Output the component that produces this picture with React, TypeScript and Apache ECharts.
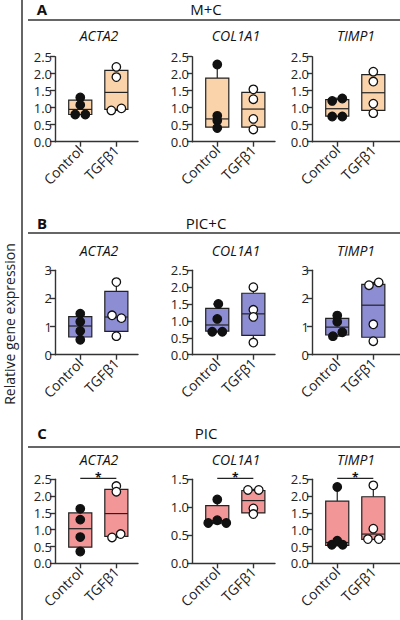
import React, { useEffect, useRef } from 'react';
import * as echarts from 'echarts';

// ---------------- data ----------------
const groups = ['Control', 'TGFβ1'];
const genes = ['ACTA2', 'COL1A1', 'TIMP1'];
const conditions = ['M+C', 'PIC+C', 'PIC'];
const panelLetters = ['A', 'B', 'C'];

// y-axis maxima and steps per row / gene
const yMaxByRow = [
  [2.5, 2.5, 2.5],
  [3, 2.5, 3],
  [2.5, 1.5, 2.5],
];
const yStepByRow = [
  [0.5, 0.5, 0.5],
  [1, 0.5, 1],
  [0.5, 0.5, 0.5],
];

// box statistics [min, q1, median, q3, max] : [row][gene][group]
const boxMC = [
  [[0.8, 0.8, 0.95, 1.22, 1.3], [0.92, 0.95, 1.45, 2.1, 2.2]],
  [[0.4, 0.43, 0.67, 1.87, 2.27], [0.36, 0.43, 0.96, 1.45, 1.54]],
  [[0.74, 0.75, 0.97, 1.24, 1.28], [0.84, 0.92, 1.44, 1.97, 2.06]],
];
const boxPICC = [
  [[0.53, 0.63, 1.02, 1.35, 1.46], [0.66, 0.83, 1.34, 2.25, 2.58]],
  [[0.67, 0.7, 0.88, 1.37, 1.5], [0.36, 0.57, 1.21, 1.82, 2.0]],
  [[0.66, 0.7, 0.98, 1.29, 1.38], [0.48, 0.62, 1.76, 2.5, 2.57]],
];
const boxPIC = [
  [[0.35, 0.48, 1.03, 1.5, 1.62], [0.77, 0.8, 1.48, 2.2, 2.28]],
  [[0.71, 0.72, 0.76, 1.03, 1.14], [0.88, 0.9, 1.12, 1.3, 1.32]],
  [[0.52, 0.53, 0.62, 1.85, 2.27], [0.71, 0.71, 0.87, 1.98, 2.32]],
];
const boxStats = [boxMC, boxPICC, boxPIC];

// individual points : [row][gene][group]
const ptsMC = [
  [[1.3, 1.08, 0.8, 0.8], [2.2, 1.9, 0.92, 0.98]],
  [[2.27, 0.76, 0.62, 0.4], [1.54, 1.25, 0.67, 0.36]],
  [[1.2, 1.27, 0.74, 0.74], [2.06, 1.77, 1.12, 0.84]],
];
const ptsPICC = [
  [[1.46, 1.17, 0.84, 0.53], [2.58, 1.4, 1.3, 0.66]],
  [[1.5, 1.06, 0.68, 0.68], [2.0, 1.33, 1.12, 0.36]],
  [[1.39, 1.17, 0.8, 0.66], [2.57, 2.47, 1.08, 0.48]],
];
const ptsPIC = [
  [[1.62, 1.3, 0.78, 0.35], [2.3, 2.13, 0.87, 0.77]],
  [[1.14, 0.77, 0.72, 0.72], [1.31, 1.31, 0.98, 0.88]],
  [[2.27, 0.67, 0.55, 0.55], [2.32, 1.03, 0.72, 0.72]],
];
const points = [ptsMC, ptsPICC, ptsPIC];

// horizontal jitter of points (category units)
const jitMC = [
  [[0, 0, -0.14, 0.14], [0, 0, -0.14, 0.14]],
  [[0, 0, 0, 0], [0, 0, 0, 0]],
  [[-0.14, 0.14, -0.14, 0.14], [0, 0, 0, 0]],
];
const jitPICC = [
  [[0, 0, 0, 0], [0, -0.12, 0.14, 0]],
  [[0.03, 0, -0.14, 0.14], [0, 0, 0, 0]],
  [[0, 0, 0.14, -0.12], [0.15, -0.12, 0, 0]],
];
const jitPIC = [
  [[0, 0, 0, 0], [0, 0, 0.12, -0.12]],
  [[0, 0, -0.25, 0.25], [-0.15, 0.15, 0, 0]],
  [[0, 0, -0.15, 0.15], [0, 0, -0.15, 0.15]],
];
const jitter = [jitMC, jitPICC, jitPIC];

const significant = [
  [false, false, false],
  [false, false, false],
  [true, true, true],
];

// ---------------- styles / layout ----------------
const FONT = '"Open Sans", "Noto Sans", sans-serif';
const fills = ['#fad3ab', '#8d8dd4', '#f29697'];
const AX = '#333333';
const rowTop = [56.7, 270.3, 479.3];
const rowHeight = [85, 84.4, 84];
const colLeft = [55, 192, 312];
const colWidth = [83, 83, 88];
const xMaxByCol = [2.6, 2.6, 2.74];
const headerLineY = [20, 233, 447];
const headerTextY = [8.5, 222.5, 433];
const geneTitleY = [35, 250, 459];
const BOX_W = 0.64;

export default function App() {
  const ref = useRef<HTMLDivElement>(null);

  useEffect(() => {
    if (!ref.current) return;
    const chart = echarts.init(ref.current, null, { renderer: 'svg' });

    const grids: any[] = [];
    const xAxes: any[] = [];
    const yAxes: any[] = [];
    const series: any[] = [];
    const graphics: any[] = [];

    graphics.push({
      type: 'line',
      shape: { x1: 22, y1: 0, x2: 22, y2: 620 },
      style: { stroke: AX, lineWidth: 1.5 },
    });
    graphics.push({
      type: 'text',
      x: 9,
      y: 324,
      rotation: Math.PI / 2,
      style: {
        text: 'Relative gene expression',
        font: `14px ${FONT}`,
        fill: '#222',
        align: 'center',
        verticalAlign: 'middle',
      },
    });

    for (let r = 0; r < 3; r++) {
      graphics.push({
        type: 'line',
        shape: { x1: 28, y1: headerLineY[r], x2: 400, y2: headerLineY[r] },
        style: { stroke: AX, lineWidth: 1.5 },
      });
      graphics.push({
        type: 'text',
        x: 42,
        y: headerTextY[r],
        style: {
          text: panelLetters[r],
          font: `bold 15px ${FONT}`,
          fill: '#111',
          align: 'center',
          verticalAlign: 'middle',
        },
      });
      graphics.push({
        type: 'text',
        x: 206,
        y: headerTextY[r],
        style: {
          text: conditions[r],
          font: `15px ${FONT}`,
          fill: '#111',
          align: 'center',
          verticalAlign: 'middle',
        },
      });

      for (let g = 0; g < 3; g++) {
        const idx = r * 3 + g;
        const yMax = yMaxByRow[r][g];
        const yStep = yStepByRow[r][g];
        graphics.push({
          type: 'text',
          x: colLeft[g] + 44,
          y: geneTitleY[r],
          style: {
            text: genes[g],
            font: `italic 14px ${FONT}`,
            fill: '#111',
            align: 'center',
            verticalAlign: 'middle',
          },
        });

        grids.push({
          left: colLeft[g],
          top: rowTop[r],
          width: colWidth[g],
          height: rowHeight[r],
          containLabel: false,
        });
        xAxes.push({
          type: 'value',
          gridIndex: idx,
          min: 0.3,
          max: xMaxByCol[g],
          splitLine: { show: false },
          axisLine: { show: true, onZero: false, lineStyle: { color: AX, width: 1.4 } },
          axisTick: { show: true, customValues: [1, 2], length: 5, lineStyle: { color: AX, width: 1.4 } },
          axisLabel: {
            customValues: [1, 2],
            formatter: (v: number) => groups[Math.round(v) - 1] ?? '',
            rotate: 45,
            fontSize: 14,
            fontFamily: FONT,
            color: '#222',
            margin: 6,
          },
        });
        yAxes.push({
          type: 'value',
          gridIndex: idx,
          min: 0,
          max: yMax,
          interval: yStep,
          splitLine: { show: false },
          axisLine: { show: true, lineStyle: { color: AX, width: 1.4 } },
          axisTick: { show: true, length: 5, lineStyle: { color: AX, width: 1.4 } },
          axisLabel: {
            formatter: (v: number) => (yStep < 1 ? v.toFixed(1) : String(v)),
            fontSize: 13,
            fontFamily: FONT,
            color: '#222',
            margin: 3,
          },
        });

        const fill = fills[r];
        series.push({
          type: 'custom',
          xAxisIndex: idx,
          yAxisIndex: idx,
          z: 2,
          clip: false,
          data: boxStats[r][g].map((s, gi) => [gi + 1, ...s]),
          encode: { x: 0, y: [1, 2, 3, 4, 5] },
          renderItem: (params: any, api: any) => {
            const x = api.value(0);
            const c = (v: number) => api.coord([x, v]);
            const [cx, yMin] = c(api.value(1));
            const yQ1 = c(api.value(2))[1];
            const yMed = c(api.value(3))[1];
            const yQ3 = c(api.value(4))[1];
            const yMx = c(api.value(5))[1];
            const half = api.size([BOX_W, 0])[0] / 2;
            const cap = 4;
            const st = { stroke: '#222', lineWidth: 1.2 };
            return {
              type: 'group',
              children: [
                { type: 'line', shape: { x1: cx, y1: yMin, x2: cx, y2: yQ1 }, style: st },
                { type: 'line', shape: { x1: cx, y1: yQ3, x2: cx, y2: yMx }, style: st },
                { type: 'line', shape: { x1: cx - cap, y1: yMin, x2: cx + cap, y2: yMin }, style: st },
                { type: 'line', shape: { x1: cx - cap, y1: yMx, x2: cx + cap, y2: yMx }, style: st },
                {
                  type: 'rect',
                  shape: { x: cx - half, y: yQ3, width: half * 2, height: yQ1 - yQ3 },
                  style: { fill, stroke: '#222', lineWidth: 1.2 },
                },
                { type: 'line', shape: { x1: cx - half, y1: yMed, x2: cx + half, y2: yMed }, style: st },
              ],
            };
          },
        });

        for (let gi = 0; gi < 2; gi++) {
          series.push({
            type: 'scatter',
            xAxisIndex: idx,
            yAxisIndex: idx,
            z: 5,
            symbol: 'circle',
            symbolSize: 8.5,
            itemStyle: {
              color: gi === 0 ? '#111' : '#ffffff',
              borderColor: '#111',
              borderWidth: 1.3,
              opacity: 1,
            },
            data: points[r][g][gi].map((v, k) => [gi + 1 + jitter[r][g][gi][k], v]),
          });
        }

        if (significant[r][g]) {
          series.push({
            type: 'custom',
            xAxisIndex: idx,
            yAxisIndex: idx,
            z: 6,
            clip: false,
            data: [[1, 2, yMax]],
            encode: { x: [0, 1], y: 2 },
            renderItem: (params: any, api: any) => {
              const p1 = api.coord([api.value(0), api.value(2)]);
              const p2 = api.coord([api.value(1), api.value(2)]);
              const y = p1[1] - 1;
              return {
                type: 'group',
                children: [
                  { type: 'line', shape: { x1: p1[0], y1: y, x2: p2[0], y2: y }, style: { stroke: '#222', lineWidth: 1.3 } },
                  {
                    type: 'text',
                    x: (p1[0] + p2[0]) / 2,
                    y: y - 1,
                    style: {
                      text: '*',
                      font: `bold 12px ${FONT}`,
                      fill: '#111',
                      align: 'center',
                      verticalAlign: 'middle',
                    },
                  },
                ],
              };
            },
          });
        }
      }
    }

    chart.setOption({
      animation: false,
      backgroundColor: '#ffffff',
      grid: grids,
      xAxis: xAxes,
      yAxis: yAxes,
      series,
      graphic: graphics,
    });

    return () => chart.dispose();
  }, []);

  return (
    <div
      ref={ref}
      style={{ position: 'fixed', left: 0, top: 0, width: 400, height: 620, background: '#fff' }}
    />
  );
}
